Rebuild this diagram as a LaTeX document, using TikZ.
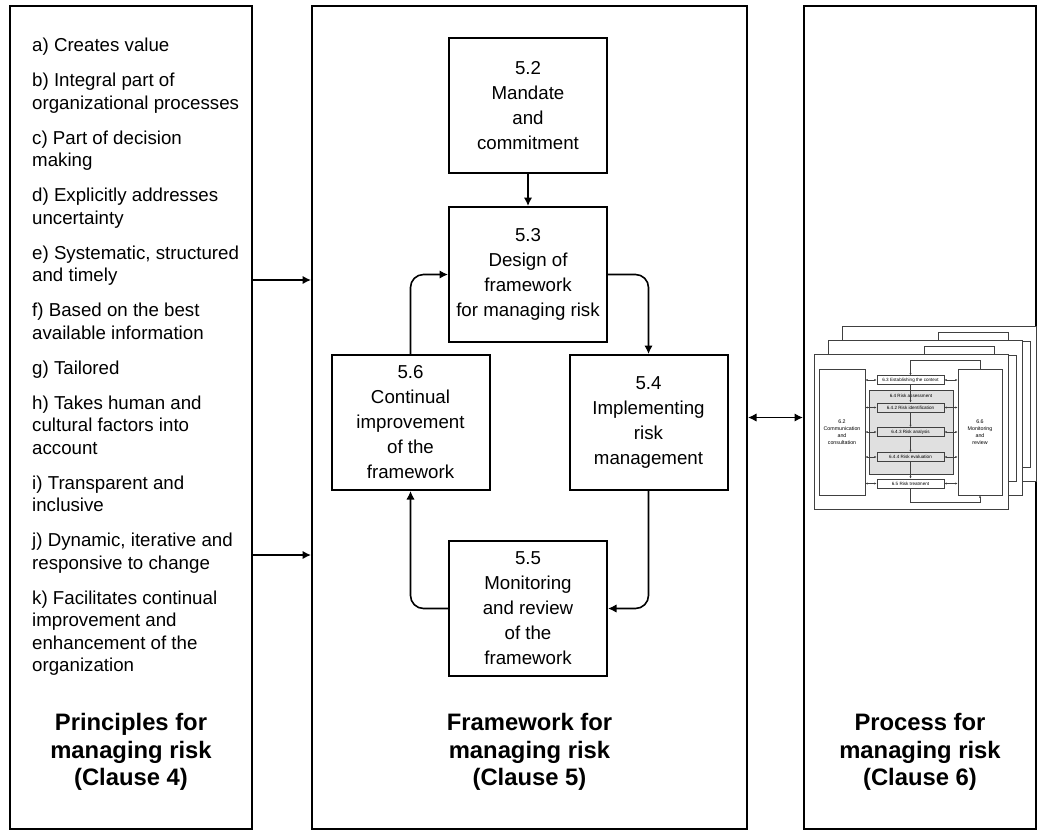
\documentclass[tikz,border=0pt]{standalone}
\usepackage{fontspec}
\setmainfont{Liberation Sans}
\usetikzlibrary{arrows.meta}

% text of the process sheets is shown on the front sheet only
\newcommand\frontonly[1]{\ifnum\k=0 #1\fi}

\begin{document}
\begin{tikzpicture}[x=1pt, y=-1pt,
    frame/.style={draw, line width=2pt, minimum height=823pt, inner sep=0pt},
    stage/.style={draw, line width=2pt, minimum width=158pt, minimum height=135pt,
        align=center, inner sep=0pt, font=\fontsize{18.7}{25}\selectfont},
    title/.style={align=center, font=\fontsize{23.8}{27.5}\selectfont\bfseries},
    flow/.style={line width=1.6pt, -{Latex[length=8.5pt,width=8.5pt]}, rounded corners=13pt},
    thumb/.style={draw=black!75, line width=0.7pt},
    tbox/.style={thumb, inner sep=0pt, align=center, font=\fontsize{4.6}{6}\selectfont},
    tflow/.style={thumb, -{Latex[length=2.2pt,width=2.2pt]}},
    tboth/.style={thumb, {Latex[length=2.2pt,width=2.2pt]}-{Latex[length=2.2pt,width=2.2pt]}}]
    \useasboundingbox (0,0) rectangle (1039,831);

    % the three columns
    \node[frame, minimum width=242pt] (clause4) at (131,417.5) {};
    \node[frame, minimum width=435pt] (clause5) at (529.5,417.5) {};
    \node[frame, minimum width=232pt] (clause6) at (920,417.5) {};

    \node[anchor=north west, align=left, inner sep=0pt, font=\fontsize{18.7}{22.5}\selectfont] (items) at (32,38)
        {a) Creates value\\[12.5pt]
         b) Integral part of\\organizational processes\\[12.5pt]
         c) Part of decision\\making\\[12.5pt]
         d) Explicitly addresses\\uncertainty\\[12.5pt]
         e) Systematic, structured\\and timely\\[12.5pt]
         f) Based on the best\\available information\\[12.5pt]
         g) Tailored\\[12.5pt]
         h) Takes human and\\cultural factors into\\account\\[12.5pt]
         i) Transparent and\\inclusive\\[12.5pt]
         j) Dynamic, iterative and\\responsive to change\\[12.5pt]
         k) Facilitates continual\\improvement and\\enhancement of the\\organization};

    \node[title] (title4) at (131,752) {Principles for\\managing risk\\(Clause 4)};
    \node[title] (title5) at (529.5,752) {Framework for\\managing risk\\(Clause 5)};
    \node[title] (title6) at (920,752) {Process for\\managing risk\\(Clause 6)};

    % framework cycle
    \node[stage] (s52) at (528,105.5) {5.2\\Mandate\\and\\commitment};
    \node[stage] (s53) at (528,274.5) {5.3\\Design of\\framework\\for managing risk};
    \node[stage] (s56) at (410.5,422.5) {5.6\\Continual\\improvement\\of the\\framework};
    \node[stage] (s54) at (648.5,422.5) {5.4\\Implementing\\risk\\management};
    \node[stage] (s55) at (528,608.5) {5.5\\Monitoring\\and review\\of the\\framework};

    \draw[flow] (s52) -- (s53);
    \draw[flow] (s53.east) -| (s54.north);
    \draw[flow] (s54.south) |- (s55.east);
    \draw[flow] (s55.west) -| (s56.south);
    \draw[flow] (s56.north) |- (s53.west);

    \draw[flow] ([yshift=137.5pt]clause4.east) -- ([yshift=137.5pt]clause5.west);
    \draw[flow] ([yshift=-137.5pt]clause4.east) -- ([yshift=-137.5pt]clause5.west);
    \draw[flow, {Latex[length=8.5pt,width=8.5pt]}-{Latex[length=8.5pt,width=8.5pt]}] (clause5.east) -- (clause6.west);

    % stacked process sheets
    \foreach \k in {2,1,0} {
    \begin{scope}[shift={(814+14*\k,354-14*\k)}, name prefix=p\k-]
        \node[thumb, fill=white, anchor=north west, minimum width=194pt, minimum height=155pt, inner sep=0pt] (sheet) at (0,0) {};
        \node[tbox, minimum width=46pt, minimum height=126pt, font=\fontsize{5.3}{7}\selectfont] (comm) at (28,78) {\frontonly{6.2\\Communication\\and\\consultation}};
        \node[tbox, minimum width=44pt, minimum height=126pt, font=\fontsize{5.3}{7}\selectfont] (monitor) at (166,78) {\frontonly{6.6\\Monitoring\\and\\review}};
        \node[tbox, fill=black!12, minimum width=84pt, minimum height=84pt] (assess) at (97,78) {};
        \node[font=\fontsize{4.6}{6}\selectfont, inner sep=0pt] (assesslabel) at (97,42) {\frontonly{6.4 Risk assessment}};
        \node[tbox, minimum width=67pt, minimum height=8.5pt] (context) at (96.5,26) {\frontonly{6.3 Establishing the context}};
        \node[tbox, minimum width=67pt, minimum height=9pt] (ident) at (96.5,53.5) {\frontonly{6.4.2 Risk identification}};
        \node[tbox, minimum width=67pt, minimum height=9pt] (analysis) at (96.5,78) {\frontonly{6.4.3 Risk analysis}};
        \node[tbox, minimum width=67pt, minimum height=9pt] (evaluation) at (96.5,103) {\frontonly{6.4.4 Risk evaluation}};
        \node[tbox, minimum width=67pt, minimum height=9pt] (treatment) at (96.5,129.5) {\frontonly{6.5 Risk treatment}};
        \draw[tflow] (context) -- (ident);
        \draw[tflow] (ident) -- (analysis);
        \draw[tflow] (analysis) -- (evaluation);
        \draw[tflow] (evaluation) -- (treatment);
        \foreach \b in {context,ident,analysis,evaluation,treatment} {
            \draw[tboth] (comm.east |- \b) -- (\b.west);
            \draw[tboth] (\b.east) -- (monitor.west |- \b);
        }
        \draw[tflow] (monitor.north) -- ++(0,-8) -| (context.north);
        \draw[tflow] (treatment.south) -- ++(0,14) -| (monitor.south);
    \end{scope}
    }
\end{tikzpicture}
\end{document}
